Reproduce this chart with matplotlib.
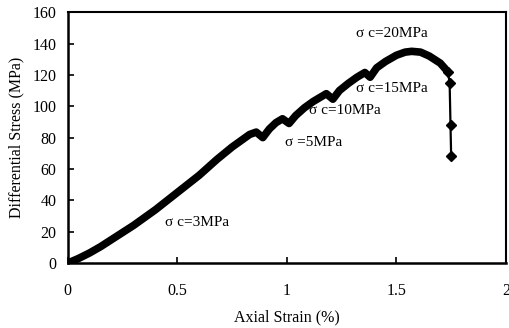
import matplotlib
matplotlib.use("Agg")
import matplotlib.pyplot as plt

# Stress-strain curve under stepwise confining pressure
strain = [0.0, 0.05, 0.10, 0.15, 0.20, 0.30, 0.40, 0.45, 0.50, 0.60, 0.68, 0.75, 0.80, 0.83,
          0.86, 0.89, 0.92, 0.95, 0.98, 1.01, 1.04, 1.08, 1.12, 1.15, 1.18, 1.21,
          1.24, 1.28, 1.32, 1.356, 1.38, 1.41, 1.45, 1.50, 1.54, 1.57, 1.61,
          1.65, 1.70, 1.735]
stress = [0.0, 3.0, 6.5, 10.5, 15.0, 24.0, 34.0, 39.5, 45.0, 56.0, 66.0, 74.0, 79.0, 82.0,
          83.5, 80.0, 85.5, 89.5, 92.0, 89.0, 94.0, 99.0, 103.0, 105.5, 108.0, 104.5,
          110.0, 114.5, 118.5, 121.5, 118.5, 124.5, 128.5, 132.5, 134.5, 135.0, 134.5,
          132.0, 127.5, 122.0]

# Post-peak failure points
fail_strain = [1.735, 1.743, 1.747, 1.750]
fail_stress = [122.0, 115.0, 88.0, 68.0]

labels = ["\u03c3 c=3MPa", "\u03c3 =5MPa", "\u03c3 c=10MPa", "\u03c3 c=15MPa", "\u03c3 c=20MPa"]
label_x = [0.588, 1.12, 1.265, 1.48, 1.48]
label_y = [26.0, 77.0, 97.5, 111.5, 146.5]

xticks = [0, 0.5, 1, 1.5, 2]
xtick_labels = ["0", "0.5", "1", "1.5", "2"]
yticks = list(range(0, 161, 20))

plt.rcParams["font.family"] = ["Liberation Serif", "DejaVu Serif"]

fig = plt.figure(figsize=(5.10, 3.28), dpi=100)
ax = fig.add_axes([0.133, 0.198, 0.859, 0.765])

ax.plot(strain, stress, color="black", lw=5.5, solid_capstyle="round",
        solid_joinstyle="round")
ax.plot(fail_strain, fail_stress, color="black", lw=1.6, marker="D",
        markersize=5, markerfacecolor="black", markeredgecolor="black")

for t, x, y in zip(labels, label_x, label_y):
    ax.text(x, y, t, fontsize=11, ha="center", va="center", color="black")

ax.set_xlim(0, 2)
ax.set_ylim(0, 160)
ax.set_xticks(xticks)
ax.set_xticklabels(xtick_labels)
ax.set_yticks(yticks)

ax.tick_params(axis="x", direction="in", length=4, width=1.2, pad=14, labelsize=11.5)
ax.tick_params(axis="y", direction="in", length=4, width=1.2, pad=8, labelsize=11.5)

for side in ["left", "bottom"]:
    ax.spines[side].set_linewidth(1.8)
for side in ["top", "right"]:
    ax.spines[side].set_linewidth(1.5)

ax.set_xlabel("Axial Strain (%)", fontsize=11.5, labelpad=8)
ax.set_ylabel("Differential Stress (MPa)", fontsize=11.5, labelpad=6)

fig.savefig("out.png", dpi=100)
